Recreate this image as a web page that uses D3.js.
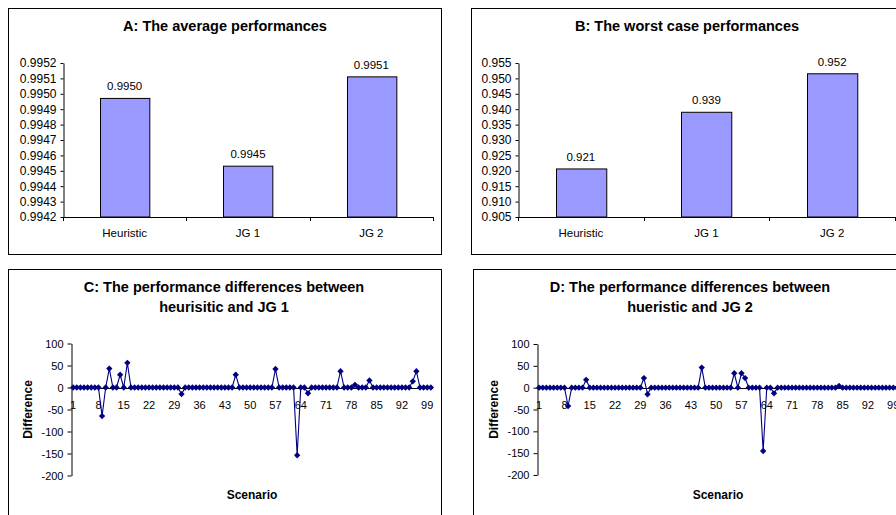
<!DOCTYPE html>
<html>
<head>
<meta charset="utf-8">
<script src="https://cdn.jsdelivr.net/npm/d3@7"></script>
<style>
  body { margin: 0; background: #fff; }
  svg text { font-family: "Liberation Sans", Arial, sans-serif; fill: #000; }
  .plotTitle { font-size: 14.5px; font-weight: bold; }
  .axisLabel { font-size: 12px; font-weight: bold; }
  .tickText { font-size: 12px; }
  .barLabel { font-size: 11.5px; }
  .frame { fill: #fff; stroke: #000; stroke-width: 1; }
</style>
</head>
<body>
<svg id="chart" width="896" height="515"></svg>
<script>
// Data
const barCategories = ["Heuristic", "JG 1", "JG 2"];
const averagePerf = [0.99497, 0.99453, 0.99511];
const averageLabels = ["0.9950", "0.9945", "0.9951"];
const averageTicks = [0.9942, 0.9943, 0.9944, 0.9945, 0.9946, 0.9947, 0.9948, 0.9949, 0.9950, 0.9951, 0.9952];
const worstPerf = [0.9206, 0.9390, 0.9515];
const worstLabels = ["0.921", "0.939", "0.952"];
const worstTicks = [0.905, 0.910, 0.915, 0.920, 0.925, 0.930, 0.935, 0.940, 0.945, 0.950, 0.955];

const scenarios = [1, 2, 3, 4, 5, 6, 7, 8, 9, 10,
  11, 12, 13, 14, 15, 16, 17, 18, 19, 20,
  21, 22, 23, 24, 25, 26, 27, 28, 29, 30,
  31, 32, 33, 34, 35, 36, 37, 38, 39, 40,
  41, 42, 43, 44, 45, 46, 47, 48, 49, 50,
  51, 52, 53, 54, 55, 56, 57, 58, 59, 60,
  61, 62, 63, 64, 65, 66, 67, 68, 69, 70,
  71, 72, 73, 74, 75, 76, 77, 78, 79, 80,
  81, 82, 83, 84, 85, 86, 87, 88, 89, 90,
  91, 92, 93, 94, 95, 96, 97, 98, 99, 100];
const scenarioTicks = [1, 8, 15, 22, 29, 36, 43, 50, 57, 64, 71, 78, 85, 92, 99];
const diffTicks = [-200, -150, -100, -50, 0, 50, 100];

// heuristic minus JG 1
const diffJG1 = [0, 0, 0, 0, 0, 0, 0, 0, -65, 0,
  43, 0, 0, 29, 0, 56, 0, 0, 0, 0,
  0, 0, 0, 0, 0, 0, 0, 0, 0, 0,
  -15, 0, 0, 0, 0, 0, 0, 0, 0, 0,
  0, 0, 0, 0, 0, 29, 0, 0, 0, 0,
  0, 0, 0, 0, 0, 0, 42, 0, 0, 0,
  0, 0, -154, 0, 0, -13, 0, 0, 0, 0,
  0, 0, 0, 0, 37, 0, 0, 0, 6, 0,
  0, 0, 16, 0, 0, 0, 0, 0, 0, 0,
  0, 0, 0, 0, 14, 37, 0, 0, 0, 0];

// heuristic minus JG 2
const diffJG2 = [0, 0, 0, 0, 0, 0, 0, 0, -42, 0,
  0, 0, 0, 18, 0, 0, 0, 0, 0, 0,
  0, 0, 0, 0, 0, 0, 0, 0, 0, 22,
  -15, 0, 0, 0, 0, 0, 0, 0, 0, 0,
  0, 0, 0, 0, 0, 46, 0, 0, 0, 0,
  0, 0, 0, 0, 33, 0, 33, 22, 0, 0,
  0, 0, -145, 0, 0, -13, 0, 0, 0, 0,
  0, 0, 0, 0, 0, 0, 0, 0, 0, 0,
  0, 0, 0, 4, 0, 0, 0, 0, 0, 0,
  0, 0, 0, 0, 0, 0, 0, 0, 0, 0];

const svg = d3.select("#chart");

createBarPanel({box: [8, 8, 433, 246], plot: [63, 63, 433, 217], title: "A: The average performances", titleX: 225},
  averagePerf, averageLabels, averageTicks, d3.format(".4f"));
createBarPanel({box: [471, 8, 440, 246], plot: [518, 63, 895, 217], title: "B: The worst case performances", titleX: 687},
  worstPerf, worstLabels, worstTicks, d3.format(".3f"));
createLinePanel({box: [8, 269, 433, 260], plot: [71, 343.5, 433, 475.5], titleX: 224,
  title: ["C: The performance differences between", "heurisitic and JG 1"]}, diffJG1);
createLinePanel({box: [473, 269, 440, 260], plot: [537, 344, 899, 475], titleX: 690,
  title: ["D: The performance differences between", "hueristic and JG 2"]}, diffJG2);

// Bar panel (A, B)
function createBarPanel(cfg, values, labels, ticks, fmt) {
  let [x0, y0, x1, y1] = cfg.plot;
  let g = svg.append("g");
  g.append("rect").attr("class", "frame")
    .attr("x", cfg.box[0] + 0.5).attr("y", cfg.box[1] + 0.5)
    .attr("width", cfg.box[2]).attr("height", cfg.box[3]);
  g.append("text").attr("class", "plotTitle").attr("text-anchor", "middle")
    .attr("x", cfg.titleX).attr("y", 31).text(cfg.title);

  let xScale = d3.scaleBand().domain(barCategories).range([x0, x1])
    .paddingInner(0.6).paddingOuter(0.3);
  let yScale = d3.scaleLinear().domain([ticks[0], ticks[ticks.length - 1]]).range([y1, y0]);

  // bars
  g.selectAll("rect.bar").data(values).enter().append("rect")
    .attr("class", "bar")
    .attr("x", (d, i) => Math.round(xScale(barCategories[i])) + 0.5)
    .attr("y", d => yScale(d))
    .attr("width", xScale.bandwidth())
    .attr("height", d => y1 - yScale(d))
    .attr("fill", "#9999ff").attr("stroke", "#000").attr("stroke-width", 1);
  g.selectAll("text.barLabel").data(values).enter().append("text")
    .attr("class", "barLabel").attr("text-anchor", "middle")
    .attr("x", (d, i) => xScale(barCategories[i]) + xScale.bandwidth() / 2)
    .attr("y", d => yScale(d) - 8)
    .text((d, i) => labels[i]);

  // y axis
  let yAxis = g.append("g").attr("transform", `translate(${x0 + 0.5},0)`)
    .call(d3.axisLeft(yScale).tickValues(ticks).tickFormat(fmt).tickSize(3).tickSizeOuter(0).tickPadding(4));
  yAxis.selectAll("text").attr("class", "tickText");
  // x axis with ticks at category boundaries
  let step = xScale.step();
  let bounds = barCategories.map((c, i) => xScale(c) + xScale.bandwidth() / 2 - step / 2)
    .concat([xScale(barCategories[2]) + xScale.bandwidth() / 2 + step / 2]);
  g.append("line").attr("x1", x0).attr("x2", x1).attr("y1", y1 + 0.5).attr("y2", y1 + 0.5).attr("stroke", "#000");
  g.selectAll("line.xtick").data(bounds).enter().append("line")
    .attr("class", "xtick").attr("stroke", "#000")
    .attr("x1", d => Math.round(d) + 0.5).attr("x2", d => Math.round(d) + 0.5)
    .attr("y1", y1).attr("y2", y1 + 4);
  g.selectAll("text.cat").data(barCategories).enter().append("text")
    .attr("class", "barLabel").attr("text-anchor", "middle")
    .attr("x", d => xScale(d) + xScale.bandwidth() / 2)
    .attr("y", y1 + 20).text(d => d);
}

// Line panel (C, D)
function createLinePanel(cfg, values) {
  let [x0, y0, x1, y1] = cfg.plot;
  let g = svg.append("g");
  g.append("rect").attr("class", "frame")
    .attr("x", cfg.box[0] + 0.5).attr("y", cfg.box[1] + 0.5)
    .attr("width", cfg.box[2]).attr("height", cfg.box[3]);
  g.selectAll("text.plotTitle").data(cfg.title).enter().append("text")
    .attr("class", "plotTitle").attr("text-anchor", "middle")
    .attr("x", cfg.titleX).attr("y", (d, i) => 292 + i * 19.5).text(d => d);

  let xScale = d3.scalePoint().domain(scenarios).range([x0, x1]).padding(0.6);
  let yScale = d3.scaleLinear().domain([-200, 100]).range([y1, y0]);

  let yAxis = g.append("g").attr("transform", `translate(${x0 + 0.5},0)`)
    .call(d3.axisLeft(yScale).tickValues(diffTicks).tickFormat(d => String(d)).tickSize(4).tickSizeOuter(0).tickPadding(4));
  yAxis.selectAll("text").attr("class", "tickText").style("font-size", "11px");

  // category axis at zero
  g.append("line").attr("x1", x0).attr("x2", x1)
    .attr("y1", Math.round(yScale(0)) + 0.5).attr("y2", Math.round(yScale(0)) + 0.5).attr("stroke", "#000");
  g.selectAll("text.cat").data(scenarioTicks).enter().append("text")
    .attr("class", "tickText").style("font-size", "11px").attr("text-anchor", "middle")
    .attr("x", d => xScale(d)).attr("y", yScale(0) + 21).text(d => d);

  let line = d3.line().x((d, i) => xScale(scenarios[i])).y(d => yScale(d));
  g.append("path").datum(values).attr("d", line)
    .attr("fill", "none").attr("stroke", "#000080").attr("stroke-width", 1.1);
  g.selectAll("path.marker").data(values).enter().append("path")
    .attr("class", "marker")
    .attr("d", d3.symbol(d3.symbolSquare, 20))
    .attr("transform", (d, i) => `translate(${xScale(scenarios[i])},${yScale(d)}) rotate(45)`)
    .attr("fill", "#000080");

  g.append("text").attr("class", "axisLabel").attr("text-anchor", "middle")
    .attr("transform", `translate(${x0 - 39},${(y0 + y1) / 2}) rotate(-90)`)
    .text("Difference");
  g.append("text").attr("class", "axisLabel").attr("text-anchor", "middle")
    .attr("x", (x0 + x1) / 2).attr("y", 499)
    .text("Scenario");
}
</script>
</body>
</html>
